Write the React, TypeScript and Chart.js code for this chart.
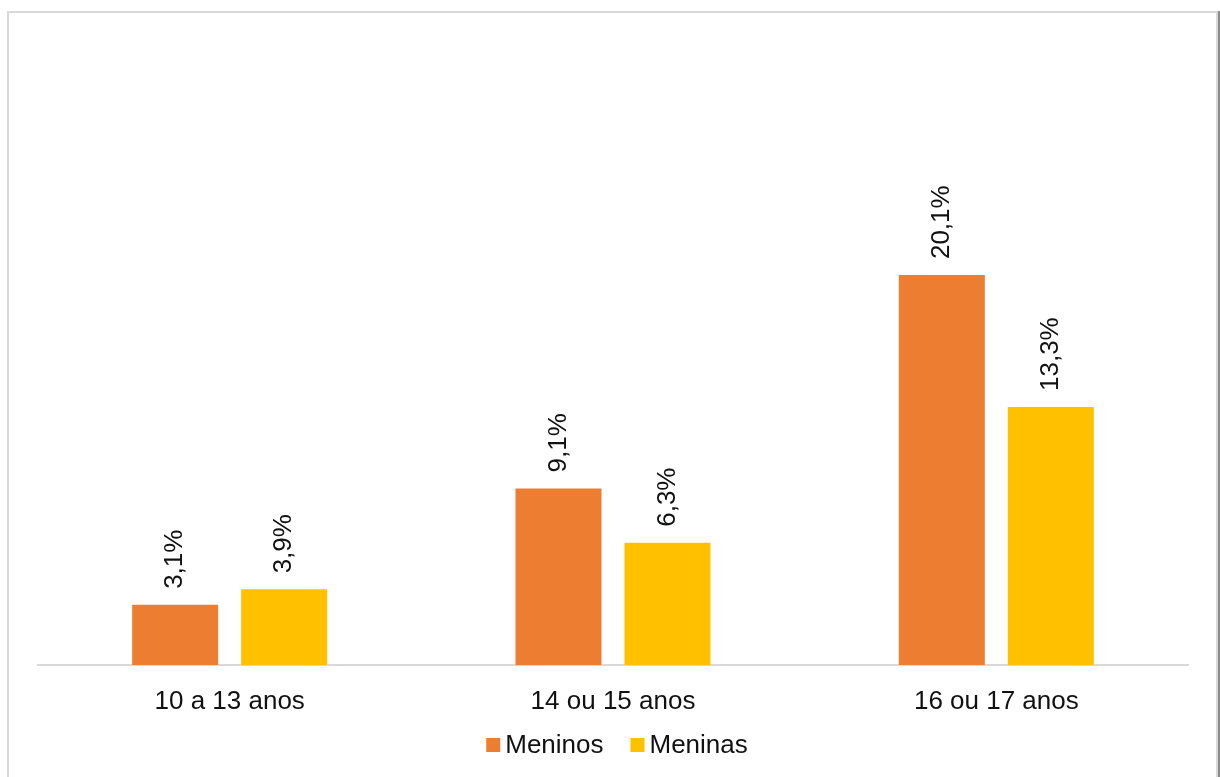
import React, { useEffect, useRef } from "react";
import { Chart, registerables } from "chart.js";

Chart.register(...registerables);

const categories = ["10 a 13 anos", "14 ou 15 anos", "16 ou 17 anos"];
const meninos = [3.1, 9.1, 20.1];
const meninas = [3.9, 6.3, 13.3];
const seriesNames = ["Meninos", "Meninas"];
const seriesColors = ["#ED7D31", "#FFC000"];

const FONT = "'Liberation Sans', Arial, Helvetica, sans-serif";
const TEXT_COLOR = "#111111";

const fmt = (v: number) => v.toFixed(1).replace(".", ",") + "%";

const valueLabels = {
  id: "valueLabels",
  afterDatasetsDraw(chart: any) {
    const ctx = chart.ctx;
    ctx.save();
    ctx.font = `26px ${FONT}`;
    ctx.fillStyle = TEXT_COLOR;
    ctx.textAlign = "left";
    ctx.textBaseline = "middle";
    chart.data.datasets.forEach((ds: any, di: number) => {
      const meta = chart.getDatasetMeta(di);
      meta.data.forEach((bar: any, i: number) => {
        const v = ds.data[i];
        ctx.save();
        ctx.translate(bar.x, bar.y - 16);
        ctx.rotate(-Math.PI / 2);
        ctx.fillText(fmt(v), 0, 0);
        ctx.restore();
      });
    });
    ctx.restore();
  },
};

const customLegend = {
  id: "customLegend",
  afterDraw(chart: any) {
    const ctx = chart.ctx;
    ctx.save();
    ctx.font = `26px ${FONT}`;
    ctx.textBaseline = "middle";
    ctx.textAlign = "left";
    const box = 14;
    const boxGap = 5;
    const itemGap = 27;
    const widths = seriesNames.map((n) => ctx.measureText(n).width);
    const total =
      widths.reduce((a, w) => a + box + boxGap + w, 0) + itemGap * (seriesNames.length - 1);
    const area = chart.chartArea;
    const cx = (area.left + area.right) / 2 + 4;
    let x = cx - total / 2;
    const yc = 745;
    seriesNames.forEach((n, i) => {
      ctx.fillStyle = seriesColors[i];
      ctx.fillRect(x, yc - box / 2, box, box);
      x += box + boxGap;
      ctx.fillStyle = TEXT_COLOR;
      ctx.fillText(n, x, yc + 1);
      x += widths[i] + itemGap;
    });
    ctx.restore();
  },
};

export default function App() {
  const ref = useRef<HTMLCanvasElement>(null);

  useEffect(() => {
    if (!ref.current) return;
    const chart = new Chart(ref.current, {
      type: "bar",
      data: {
        labels: categories,
        datasets: [
          {
            label: seriesNames[0],
            data: meninos,
            backgroundColor: seriesColors[0],
            categoryPercentage: 0.5687,
            barPercentage: 0.789,
          },
          {
            label: seriesNames[1],
            data: meninas,
            backgroundColor: seriesColors[1],
            categoryPercentage: 0.5687,
            barPercentage: 0.789,
          },
        ],
      },
      options: {
        animation: false,
        responsive: false,
        layout: { padding: { left: 38, right: 32, top: 180, bottom: 62 } },
        plugins: {
          legend: { display: false },
          tooltip: { enabled: false },
        },
        scales: {
          x: {
            grid: { display: true, drawOnChartArea: false, drawTicks: false, color: "rgba(0,0,0,0)" },
            border: { display: true, color: "#d9d9d9", width: 2 },
            ticks: {
              padding: 21,
              color: TEXT_COLOR,
              font: { family: FONT, size: 26 },
              maxRotation: 0,
            },
            afterFit: (scale: any) => {
              scale.height = 50;
            },
          },
          y: {
            display: false,
            min: 0,
            max: 25,
          },
        },
      },
      plugins: [valueLabels, customLegend],
    });
    return () => chart.destroy();
  }, []);

  return (
    <div>
      <div
        style={{
          position: "absolute",
          left: 7,
          top: 11,
          width: 1207,
          height: 800,
          borderLeft: "2px solid #d9d9d9",
          borderTop: "2px solid #d9d9d9",
          borderRight: "2px solid #d9d9d9",
        }}
      />
      <div
        style={{
          position: "absolute",
          left: 1218,
          top: 11,
          width: 2,
          height: 800,
          background: "#8a8a8a",
        }}
      />
      <canvas
        ref={ref}
        width={1220}
        height={777}
        style={{ position: "absolute", left: 0, top: 0 }}
      />
    </div>
  );
}
